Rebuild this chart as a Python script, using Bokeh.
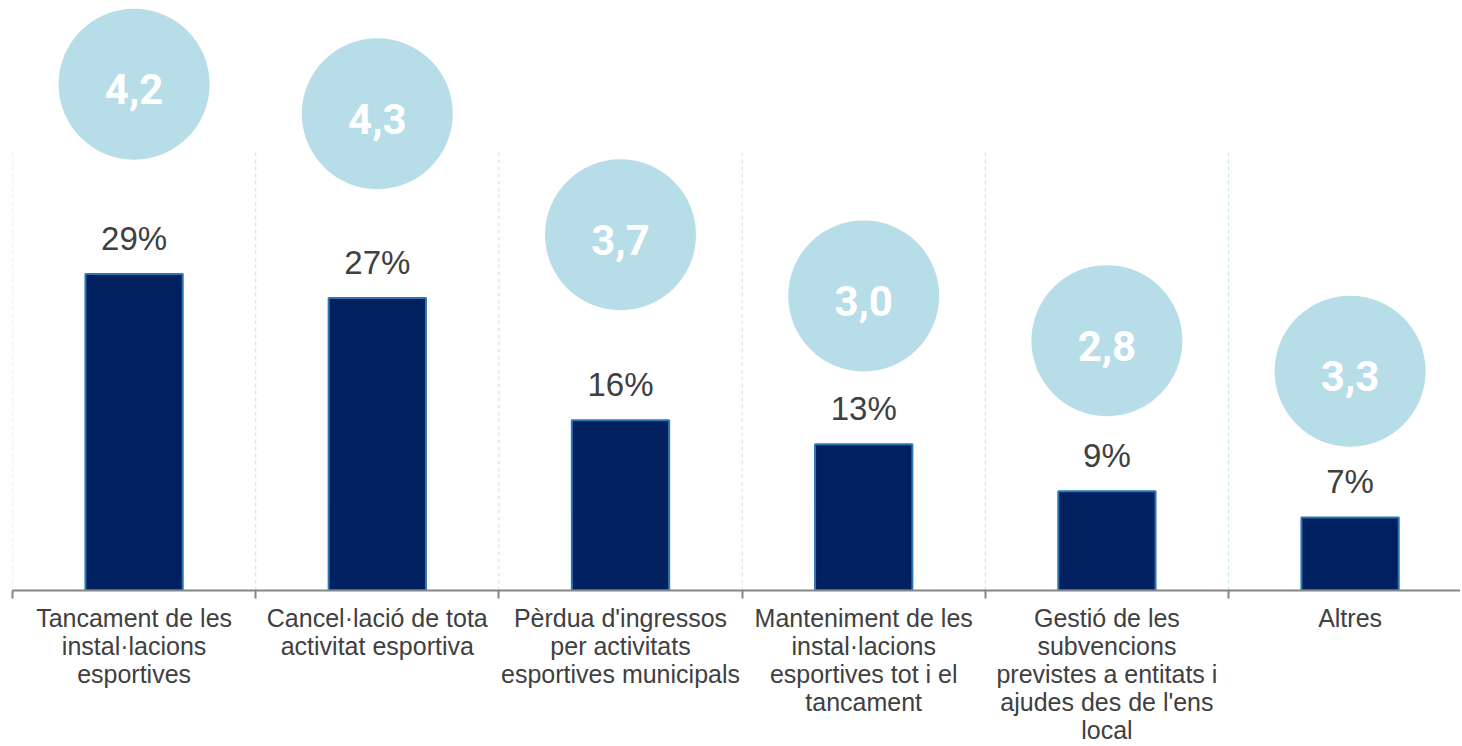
from bokeh.plotting import figure
from bokeh.models import ColumnDataSource, FixedTicker, Range1d
from bokeh.core.properties import value
from bokeh.embed import file_html
from bokeh.resources import INLINE

# ---- data ----
categories = [
    "Tancament de les\ninstal·lacions\nesportives",
    "Cancel·lació de tota\nactivitat esportiva",
    "Pèrdua d'ingressos\nper activitats\nesportives municipals",
    "Manteniment de les\ninstal·lacions\nesportives tot i el\ntancament",
    "Gestió de les\nsubvencions\nprevistes a entitats i\najudes des de l'ens\nlocal",
    "Altres",
]
share_pct = [29.0, 26.8, 15.6, 13.4, 9.1, 6.7]
score = [4.2, 4.3, 3.7, 3.0, 2.8, 3.3]

# ---- layout (badge vertical placement, in axis units) ----
badge_y = [46.4, 43.7, 32.6, 27.0, 22.9, 20.1]

n = len(categories)
centers = [i + 0.5 for i in range(n)]
bounds = list(range(n + 1))
share_labels = [f"{round(v)}%" for v in share_pct]
score_labels = [f"{s:.1f}".replace(".", ",") for s in score]

src = ColumnDataSource(dict(x=centers, top=share_pct, lab=share_labels,
                            by=badge_y, slab=score_labels))

W, H = 1460, 746
p = figure(width=W, height=H, output_backend="svg", toolbar_location=None,
           x_range=Range1d(0, (W - 12) / 243.2), y_range=Range1d(0, 591 / 10.93),
           min_border_left=12, min_border_right=0, min_border_top=0,
           min_border_bottom=H - 591)
p.outline_line_color = None
p.background_fill_color = "white"
p.border_fill_color = "white"
p.yaxis.visible = False
p.xgrid.visible = False
p.ygrid.visible = False

# dashed category separators
p.segment(x0=bounds, y0=[0] * (n + 1), x1=bounds, y1=[40.2] * (n + 1),
          line_color="#cfe6ee", line_width=1.2, line_dash="4 3")

p.vbar(x="x", top="top", width=0.4, source=src, fill_color="#002060",
       line_color="#2E75B6", line_width=2)

p.text(x="x", y="top", text="lab", source=src, y_offset=-36,
       text_align="center", text_baseline="alphabetic",
       text_font=value("Liberation Sans"), text_font_size="33px",
       text_color="#404040")

p.scatter(x="x", y="by", source=src, marker="circle", size=151,
          fill_color="#b7dde8", line_color=None)
p.text(x="x", y="by", text="slab", source=src, y_offset=5,
       text_align="center", text_baseline="middle",
       text_font=value("Roboto"), text_font_style="bold",
       text_font_size="42px", text_color="white")

ax = p.xaxis[0]
ax.ticker = FixedTicker(ticks=centers, minor_ticks=bounds)
ax.major_label_overrides = {c: lab for c, lab in zip(centers, categories)}
ax.major_tick_in = 0
ax.major_tick_out = 0
ax.minor_tick_in = 0
ax.minor_tick_out = 8
ax.minor_tick_line_color = "#868686"
ax.minor_tick_line_width = 2
ax.axis_line_color = "#868686"
ax.axis_line_width = 2
ax.major_label_standoff = 5
ax.major_label_text_font = "Liberation Sans"
ax.major_label_text_font_size = "25px"
ax.major_label_text_color = "#404040"
ax.major_label_text_line_height = 1.0

open("out.html", "w").write(file_html(p, INLINE))
